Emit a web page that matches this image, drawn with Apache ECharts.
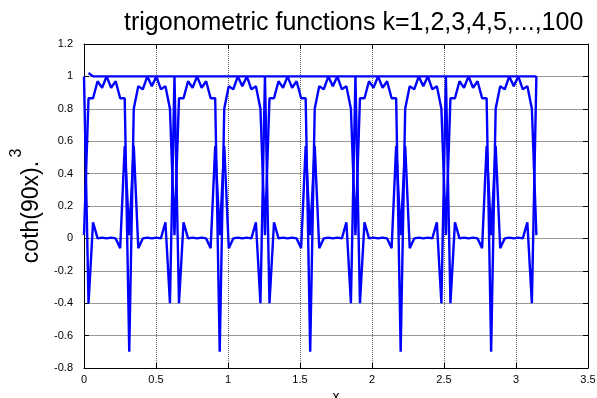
<!DOCTYPE html>
<html><head><meta charset="utf-8">
<script src="https://cdn.jsdelivr.net/npm/echarts@6/dist/echarts.min.js"></script>
<style>html,body{margin:0;padding:0;background:#fff}#c{width:597px;height:398px}</style>
</head><body><div id="c"></div>
<script>
// sample positions x = k*pi/100, k = 0..100
const xs = [
 0.0000,0.0314,0.0628,0.0942,0.1257,0.1571,0.1885,0.2199,0.2513,0.2827,
 0.3142,0.3456,0.3770,0.4084,0.4398,0.4712,0.5027,0.5341,0.5655,0.5969,
 0.6283,0.6597,0.6912,0.7226,0.7540,0.7854,0.8168,0.8482,0.8796,0.9111,
 0.9425,0.9739,1.0053,1.0367,1.0681,1.0996,1.1310,1.1624,1.1938,1.2252,
 1.2566,1.2881,1.3195,1.3509,1.3823,1.4137,1.4451,1.4765,1.5080,1.5394,
 1.5708,1.6022,1.6336,1.6650,1.6965,1.7279,1.7593,1.7907,1.8221,1.8535,
 1.8850,1.9164,1.9478,1.9792,2.0106,2.0420,2.0735,2.1049,2.1363,2.1677,
 2.1991,2.2305,2.2619,2.2934,2.3248,2.3562,2.3876,2.4190,2.4504,2.4819,
 2.5133,2.5447,2.5761,2.6075,2.6389,2.6704,2.7018,2.7332,2.7646,2.7960,
 2.8274,2.8588,2.8903,2.9217,2.9531,2.9845,3.0159,3.0473,3.0788,3.1102,
 3.1416
];
// coth(90x).^3 (undefined at x = 0)
const cothCube = [
 null,1.021,1.0,1.0,1.0,1.0,1.0,1.0,1.0,1.0,
 1.0,1.0,1.0,1.0,1.0,1.0,1.0,1.0,1.0,1.0,
 1.0,1.0,1.0,1.0,1.0,1.0,1.0,1.0,1.0,1.0,
 1.0,1.0,1.0,1.0,1.0,1.0,1.0,1.0,1.0,1.0,
 1.0,1.0,1.0,1.0,1.0,1.0,1.0,1.0,1.0,1.0,
 1.0,1.0,1.0,1.0,1.0,1.0,1.0,1.0,1.0,1.0,
 1.0,1.0,1.0,1.0,1.0,1.0,1.0,1.0,1.0,1.0,
 1.0,1.0,1.0,1.0,1.0,1.0,1.0,1.0,1.0,1.0,
 1.0,1.0,1.0,1.0,1.0,1.0,1.0,1.0,1.0,1.0,
 1.0,1.0,1.0,1.0,1.0,1.0,1.0,1.0,1.0,1.0,
 1.0
];
// upper oscillating curve
const upperCurve = [
 0.02,0.865,0.865,0.97,0.93,1.0,0.93,0.97,0.865,0.865,
 -0.70,0.80,0.94,0.92,1.0,0.94,1.0,0.92,0.94,0.80,
 0.02,0.865,0.865,0.97,0.93,1.0,0.93,0.97,0.865,0.865,
 -0.70,0.80,0.94,0.92,1.0,0.94,1.0,0.92,0.94,0.80,
 0.02,0.865,0.865,0.97,0.93,1.0,0.93,0.97,0.865,0.865,
 -0.70,0.80,0.94,0.92,1.0,0.94,1.0,0.92,0.94,0.80,
 0.02,0.865,0.865,0.97,0.93,1.0,0.93,0.97,0.865,0.865,
 -0.70,0.80,0.94,0.92,1.0,0.94,1.0,0.92,0.94,0.80,
 0.02,0.865,0.865,0.97,0.93,1.0,0.93,0.97,0.865,0.865,
 -0.70,0.80,0.94,0.92,1.0,0.94,1.0,0.92,0.94,0.80,
 0.02
];
// lower oscillating curve
const lowerCurve = [
 1.0,-0.40,0.10,0.0,0.005,0.0,0.005,0.0,-0.06,0.57,
 0.02,0.57,-0.06,0.0,0.005,0.0,0.005,0.0,0.10,-0.40,
 1.0,-0.40,0.10,0.0,0.005,0.0,0.005,0.0,-0.06,0.57,
 0.02,0.57,-0.06,0.0,0.005,0.0,0.005,0.0,0.10,-0.40,
 1.0,-0.40,0.10,0.0,0.005,0.0,0.005,0.0,-0.06,0.57,
 0.02,0.57,-0.06,0.0,0.005,0.0,0.005,0.0,0.10,-0.40,
 1.0,-0.40,0.10,0.0,0.005,0.0,0.005,0.0,-0.06,0.57,
 0.02,0.57,-0.06,0.0,0.005,0.0,0.005,0.0,0.10,-0.40,
 1.0,-0.40,0.10,0.0,0.005,0.0,0.005,0.0,-0.06,0.57,
 0.02,0.57,-0.06,0.0,0.005,0.0,0.005,0.0,0.10,-0.40,
 1.0
];
const titleText = 'trigonometric functions k=1,2,3,4,5,...,100';
const yNameMain = 'coth(90x).';
const yNameSup = '3';
const xName = 'x';

const FONT = '"Liberation Sans", Arial, sans-serif';
function pairs(ys){ return xs.map((x,i)=>[x, ys[i]===null ? '-' : ys[i]]); }
function line(ys){
  return {type:'line', data:pairs(ys), showSymbol:false, symbol:'none', animation:false,
    lineStyle:{color:'#0000ff', width:2.4}, itemStyle:{color:'#0000ff'}, connectNulls:false};
}
const axisCommon = {
  axisLine:{show:true, onZero:false, lineStyle:{color:'#000', width:1}},
  axisTick:{show:true, inside:true, length:5, lineStyle:{color:'#000'}},
};
const chart = echarts.init(document.getElementById('c'), null, {renderer:'canvas'});
chart.setOption({
  backgroundColor:'#fff',
  animation:false,
  title:{text:titleText, left:119, top:6, textStyle:{fontFamily:FONT, fontSize:25, fontWeight:'normal', color:'#000'}},
  grid:{left:84, top:44, right:9, bottom:30, containLabel:false, outerBoundsMode:'none'},
  xAxis:[
    Object.assign({type:'value', min:0, max:3.5, interval:0.5, position:'bottom',
      axisLabel:{color:'#000', fontSize:11, margin:6, fontFamily:FONT},
      splitLine:{show:true, lineStyle:{color:'#666', type:'dotted', width:1}},
      name:xName, nameLocation:'middle', nameGap:20,
      nameTextStyle:{fontSize:14, color:'#000', fontFamily:FONT}}, axisCommon),
    Object.assign({type:'value', min:0, max:3.5, interval:0.5, position:'top',
      axisLabel:{show:false}, splitLine:{show:false}}, axisCommon)
  ],
  yAxis:[
    Object.assign({type:'value', min:-0.8, max:1.2, interval:0.2, position:'left',
      axisLabel:{color:'#000', fontSize:11, margin:11, fontFamily:FONT},
      splitLine:{show:true, lineStyle:{color:'#999', type:'solid', width:1}}}, axisCommon),
    Object.assign({type:'value', min:-0.8, max:1.2, interval:0.2, position:'right',
      axisLabel:{show:false}, splitLine:{show:false}}, axisCommon)
  ],
  graphic:[
    {type:'text', x:32, y:212, rotation:Math.PI/2,
      style:{text:yNameMain, font:'23px ' + FONT, fill:'#000', align:'center', verticalAlign:'middle', textAlign:'center', textVerticalAlign:'middle'}},
    {type:'text', x:17, y:153, rotation:Math.PI/2,
      style:{text:yNameSup, font:'16px ' + FONT, fill:'#000', align:'center', verticalAlign:'middle', textAlign:'center', textVerticalAlign:'middle'}}
  ],
  series:[ line(cothCube), line(upperCurve), line(lowerCurve) ]
});
</script>
</body></html>
